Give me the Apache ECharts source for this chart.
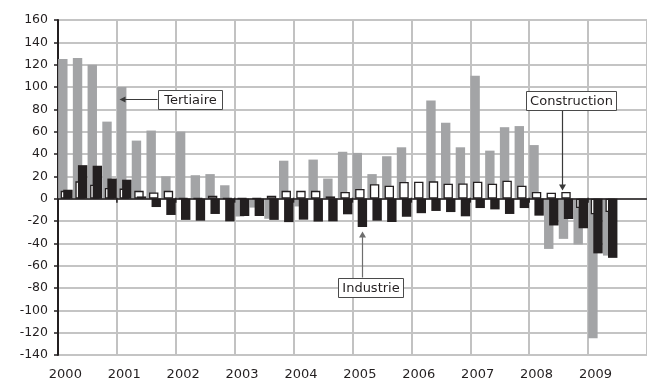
<!DOCTYPE html>
<html>
<head>
<meta charset="utf-8">
<script src="https://cdn.jsdelivr.net/npm/echarts@6/dist/echarts.min.js"></script>
<style>
  html, body { margin: 0; padding: 0; background: #fff; overflow: hidden; }
  .layer { position: absolute; left: 0; top: 0; width: 647px; height: 383px; }
</style>
</head>
<body>
<div id="frame" class="layer"></div>
<div id="chart" class="layer"></div>
<script>
// Quarterly categories, 2000 to 2009 (label shown on the first quarter of each year)
const quarters = [
  '2000T1','2000T2','2000T3','2000T4',
  '2001T1','2001T2','2001T3','2001T4',
  '2002T1','2002T2','2002T3','2002T4',
  '2003T1','2003T2','2003T3','2003T4',
  '2004T1','2004T2','2004T3','2004T4',
  '2005T1','2005T2','2005T3','2005T4',
  '2006T1','2006T2','2006T3','2006T4',
  '2007T1','2007T2','2007T3','2007T4',
  '2008T1','2008T2','2008T3','2008T4',
  '2009T1','2009T2','2009T3','2009T4'
];

// Tertiaire
const tertiaire = [
  125, 126, 120, 69,
  100, 52, 61, 20,
  60, 21, 22, 12,
  -16, -8, -18, 34,
  -7, 35, 18, 42,
  41, 22, 38, 46,
  0, 88, 68, 46,
  110, 43, 64, 65,
  48, -45, -36, -41,
  -125, -51, null, null
];

// Construction
const construction = [
  7, 15.5, 12.5, 9.5,
  9, 7, 5.5, 7,
  0.3, 0.3, 2.7, 0.3,
  0.3, 0.3, 2.7, 7,
  7, 7, 2, 6,
  8.7, 13, 11.6, 15,
  15.2, 15.5, 13.4, 13.6,
  15.2, 13.4, 16.1, 11.6,
  6, 5.4, 6, -8.4,
  -14, -12, null, null
];

// Industrie
const industrie = [
  8, 30, 29.5, 18,
  17, 2, -7.5, -14.6,
  -19, -19.7, -13.7, -20.3,
  -15.5, -15.5, -19, -21,
  -18.8, -20.5, -20.3, -14,
  -25.4, -19.7, -20.9, -16.2,
  -13, -11, -12, -15.8,
  -8.4, -9.6, -13.7, -8.4,
  -15.2, -24, -18.2, -26.5,
  -49, -53, null, null
];

// Value axis
const yMin = -140, yMax = 160, yStep = 20;

// First quarter of each year: tick positions on the zero line
const yearStarts = [4, 8, 12, 16, 20, 24, 28, 32, 36];

// Callouts: label, anchor [category index, value], pixel nudge of the arrow tip
const callouts = [
  { text: 'Tertiaire',    at: [4, 89],     dx: -5, side: 'right', boxW: 64 },
  { text: 'Construction', at: [34, 8],     dx: -4, side: 'above', boxW: 90 },
  { text: 'Industrie',    at: [20, -28.6], dx: 2,  side: 'below', boxW: 65 }
];

const INK = '#231f20';
const FONT = 'DejaVu Sans';
const GRID = { left: 58, top: 20, width: 591.6, height: 335 };

// Background layer: axes, labels and grid rules
const frame = echarts.init(document.getElementById('frame'));
frame.setOption({
  animation: false,
  grid: GRID,
  xAxis: {
    type: 'category',
    data: quarters,
    boundaryGap: true,
    axisLine: { show: false, onZero: false },
    axisTick: { show: false },
    axisLabel: {
      interval: 3,
      margin: 13,
      color: INK,
      fontFamily: FONT,
      fontSize: 13,
      formatter: v => v.slice(0, 4)
    },
    splitLine: { show: true, interval: 3, lineStyle: { color: '#c2c2c2', width: 2 } }
  },
  yAxis: {
    type: 'value',
    min: yMin,
    max: yMax,
    interval: yStep,
    axisLine: { show: true, onZero: false, lineStyle: { color: INK, width: 2 } },
    axisTick: { show: true, length: 4, lineStyle: { color: INK, width: 1.5 } },
    axisLabel: { color: INK, fontFamily: FONT, fontSize: 12.5, margin: 10 },
    splitLine: { show: true, lineStyle: { color: '#b0b0b0', width: 1.5 } }
  },
  series: [{ type: 'bar', data: quarters.map(() => null) }]
});

// Short ticks under the zero line at each year boundary
function renderYearTick(params, api) {
  const band = api.size([1, 0])[0];
  const x = api.coord([api.value(0), 0])[0] - band / 2;
  const y0 = api.coord([0, 0])[1];
  return {
    type: 'line',
    shape: { x1: x, y1: y0 - 1, x2: x, y2: y0 + 4 },
    style: { stroke: INK, lineWidth: 1.5 }
  };
}

// Callout box, text and arrow anchored on a data point
function renderCallout(params, api) {
  const c = callouts[params.dataIndex];
  const p = api.coord([api.value(0), api.value(1)]);
  const tx = Math.round(p[0] + c.dx) + 0.5, ty = Math.round(p[1]) + 0.5;
  const boxW = c.boxW, boxH = 19;
  let bx, by, line, head;
  if (c.side === 'right') {
    bx = tx + 38; by = ty - boxH / 2;
    line = [[bx, ty], [tx + 5, ty]];
    head = [[tx, ty], [tx + 6, ty - 3], [tx + 6, ty + 3]];
  } else if (c.side === 'above') {
    bx = tx + 8.5 - boxW / 2; by = ty - 100;
    line = [[tx, by + boxH], [tx, ty - 5]];
    head = [[tx, ty], [tx - 3.5, ty - 6], [tx + 3.5, ty - 6]];
  } else {
    bx = tx + 8 - boxW / 2; by = ty + 46;
    line = [[tx, by], [tx, ty + 5]];
    head = [[tx, ty], [tx - 3.5, ty + 6], [tx + 3.5, ty + 6]];
  }
  bx = Math.round(bx) + 0.5; by = Math.round(by) + 0.5;
  const arrowColor = c.side === 'below' ? '#6e6e6e' : '#3a3a3a';
  return {
    type: 'group',
    children: [
      { type: 'polyline', shape: { points: line }, style: { stroke: arrowColor, lineWidth: 1.2, fill: null } },
      { type: 'polygon', shape: { points: head }, style: { fill: arrowColor } },
      { type: 'rect', shape: { x: bx, y: by, width: boxW, height: boxH },
        style: { fill: '#ffffff', stroke: '#4a4a4a', lineWidth: 1 } },
      { type: 'text', x: bx + boxW / 2, y: by + boxH / 2 + 0.5,
        style: { text: c.text, fill: INK, font: '13px "' + FONT + '"', align: 'center', verticalAlign: 'middle' } }
    ]
  };
}

// Foreground layer: the three series, zero line and callouts
const chart = echarts.init(document.getElementById('chart'));
chart.setOption({
  animation: false,
  backgroundColor: 'transparent',
  grid: GRID,
  xAxis: {
    type: 'category',
    data: quarters,
    boundaryGap: true,
    show: false
  },
  yAxis: {
    type: 'value',
    min: yMin,
    max: yMax,
    interval: yStep,
    show: false,
    splitLine: { show: false }
  },
  series: [
    {
      name: 'Tertiaire',
      type: 'bar',
      data: tertiaire,
      barWidth: 9.4,
      barGap: '-73%',
      itemStyle: { color: '#a3a4a6' }
    },
    {
      name: 'Construction',
      type: 'bar',
      data: construction,
      barWidth: 9.4,
      barGap: '-73%',
      itemStyle: { color: '#ffffff', borderColor: INK, borderWidth: 1.3 }
    },
    {
      name: 'Industrie',
      type: 'bar',
      data: industrie,
      barWidth: 9.4,
      barGap: '-73%',
      itemStyle: { color: INK },
      markLine: {
        silent: true,
        symbol: 'none',
        label: { show: false },
        lineStyle: { color: INK, width: 1.5, type: 'solid' },
        data: [{ yAxis: 0 }]
      }
    },
    {
      name: 'year-ticks',
      type: 'custom',
      silent: true,
      z: 5,
      renderItem: renderYearTick,
      data: yearStarts.map(i => [i, 0])
    },
    {
      name: 'callouts',
      type: 'custom',
      silent: true,
      z: 30,
      clip: false,
      renderItem: renderCallout,
      data: callouts.map(c => c.at)
    }
  ]
});
</script>
</body>
</html>
